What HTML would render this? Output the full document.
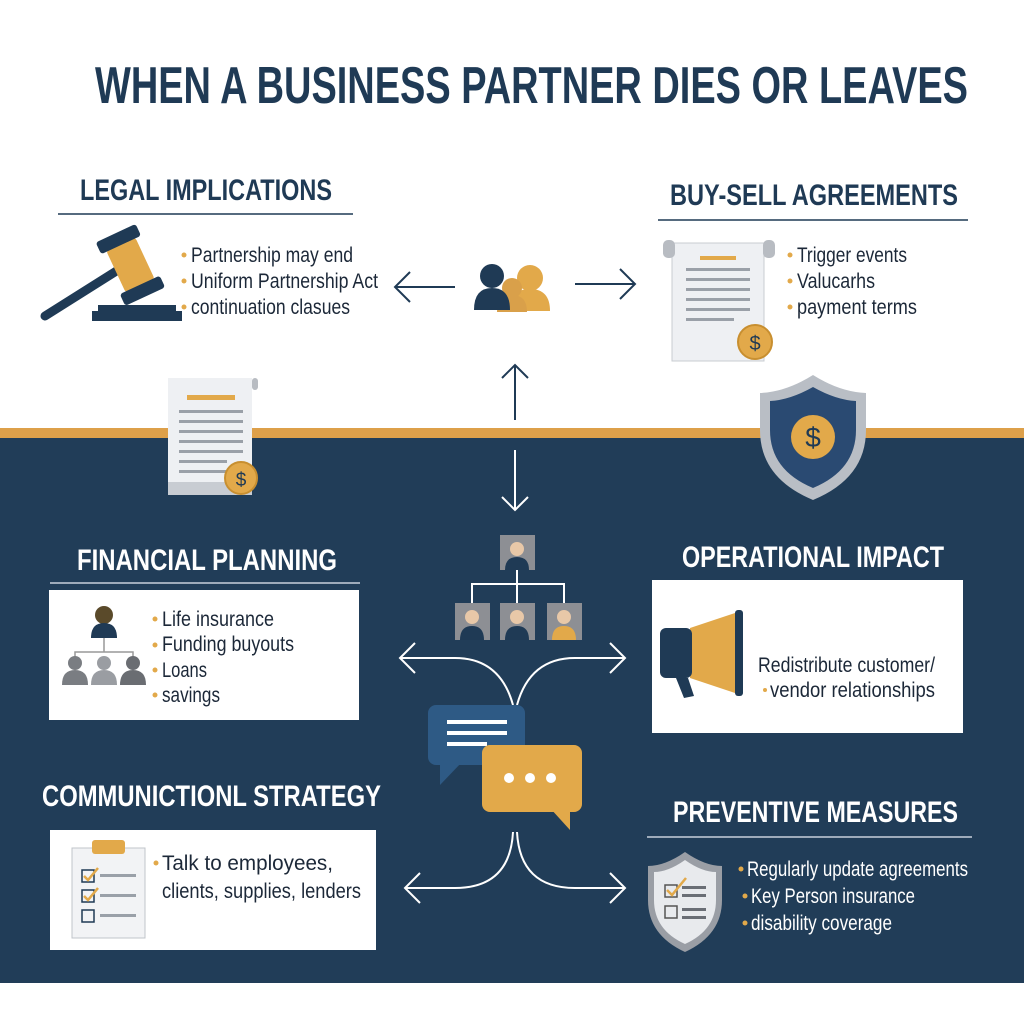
<!DOCTYPE html>
<html><head><meta charset="utf-8"><style>
html,body{margin:0;padding:0;background:#fff;}
svg{display:block}
text{font-family:"Liberation Sans Narrow","Liberation Sans",sans-serif;}
.h{font-weight:bold;font-size:30px;}
.b{font-size:21px;fill:#1c2838;}
.w{font-size:21px;fill:#fff;}
</style></head><body>
<svg width="1024" height="1024" viewBox="0 0 1024 1024" xmlns="http://www.w3.org/2000/svg">
<rect width="1024" height="1024" fill="#fff"/>
<text x="95" y="103" font-size="52" font-weight="bold" fill="#1f3a55" textLength="873" lengthAdjust="spacingAndGlyphs">WHEN A BUSINESS PARTNER DIES OR LEAVES</text>

<text class="h" x="80" y="200" fill="#1f3a55" textLength="252" lengthAdjust="spacingAndGlyphs">LEGAL IMPLICATIONS</text>
<line x1="58" y1="214" x2="353" y2="214" stroke="#1f3a55" stroke-width="1.5"/>
<g>
<line x1="45" y1="316" x2="118" y2="270" stroke="#1f3a55" stroke-width="9" stroke-linecap="round"/>
<g transform="rotate(-25 130 264)">
<rect x="114" y="242" width="32" height="46" rx="3" fill="#e2a94a"/>
<rect x="108" y="230" width="44" height="13" rx="3" fill="#1f3a55"/>
<rect x="108" y="287" width="44" height="13" rx="3" fill="#1f3a55"/>
</g>
<rect x="98" y="305" width="78" height="6" fill="#1f3a55"/>
<rect x="92" y="311" width="90" height="10" fill="#1f3a55"/>
</g>
<g fill="#e2a94a"><circle cx="184" cy="255" r="2.5"/><circle cx="184" cy="281" r="2.5"/><circle cx="184" cy="307" r="2.5"/></g>
<text class="b" x="191" y="262" textLength="162" lengthAdjust="spacingAndGlyphs">Partnership may end</text>
<text class="b" x="191" y="288" textLength="187" lengthAdjust="spacingAndGlyphs">Uniform Partnership Act</text>
<text class="b" x="191" y="314" textLength="159" lengthAdjust="spacingAndGlyphs">continuation clasues</text>

<g stroke="#1f3a55" stroke-width="2" fill="none">
<line x1="395" y1="287" x2="455" y2="287"/><polyline points="410,272 395,287 410,302"/>
<line x1="575" y1="284" x2="635" y2="284"/><polyline points="620,269 635,284 620,299"/>
<line x1="515" y1="365" x2="515" y2="420"/><polyline points="502,378 515,365 528,378"/>
</g>
<g>
<circle cx="530" cy="278" r="13" fill="#e2a94a"/><path d="M510 311 q0-22 20-22 q20 0 20 22z" fill="#e2a94a"/>
<circle cx="512" cy="288" r="10" fill="#d9a04a"/><path d="M497 312 q0-17 15-17 q15 0 15 17z" fill="#d9a04a"/>
<circle cx="492" cy="276" r="12" fill="#1f3a55"/><path d="M474 310 q0-22 18-22 q18 0 18 22z" fill="#1f3a55"/>
</g>

<text class="h" x="670" y="205" fill="#1f3a55" textLength="288" lengthAdjust="spacingAndGlyphs">BUY-SELL AGREEMENTS</text>
<line x1="658" y1="220" x2="968" y2="220" stroke="#1f3a55" stroke-width="1.5"/>
<g>
<rect x="672" y="243" width="92" height="118" fill="#eef0f3" stroke="#c8ccd2"/>
<rect x="663" y="240" width="12" height="18" rx="5" fill="#b8bcc2"/><rect x="763" y="240" width="12" height="18" rx="5" fill="#b8bcc2"/>
<rect x="700" y="256" width="36" height="4" fill="#e2a94a"/>
<g fill="#9aa0a8"><rect x="686" y="268" width="64" height="3"/><rect x="686" y="278" width="64" height="3"/><rect x="686" y="288" width="64" height="3"/><rect x="686" y="298" width="64" height="3"/><rect x="686" y="308" width="64" height="3"/><rect x="686" y="318" width="48" height="3"/></g>
<circle cx="755" cy="342" r="17" fill="#e2a94a" stroke="#c88f30" stroke-width="2"/>
<text x="755" y="350" font-size="20" text-anchor="middle" fill="#1f3a55">$</text>
</g>
<g fill="#e2a94a"><circle cx="790" cy="255" r="2.5"/><circle cx="790" cy="281" r="2.5"/><circle cx="790" cy="307" r="2.5"/></g>
<text class="b" x="797" y="262" textLength="110" lengthAdjust="spacingAndGlyphs">Trigger events</text>
<text class="b" x="797" y="288" textLength="78" lengthAdjust="spacingAndGlyphs">Valucarhs</text>
<text class="b" x="797" y="314" textLength="120" lengthAdjust="spacingAndGlyphs">payment terms</text>

<rect x="0" y="428" width="1024" height="10" fill="#dda04a"/>
<rect x="0" y="438" width="1024" height="545" fill="#213d58"/>

<g>
<rect x="168" y="378" width="84" height="117" fill="#eef0f3"/>
<rect x="168" y="482" width="84" height="13" fill="#c8ccd2"/>
<rect x="252" y="378" width="6" height="12" rx="3" fill="#b8bcc2"/>
<rect x="187" y="395" width="48" height="5" fill="#e2a94a"/>
<g fill="#9aa0a8"><rect x="179" y="410" width="64" height="3"/><rect x="179" y="420" width="64" height="3"/><rect x="179" y="430" width="64" height="3"/><rect x="179" y="440" width="64" height="3"/><rect x="179" y="450" width="64" height="3"/><rect x="179" y="460" width="48" height="3"/><rect x="179" y="470" width="48" height="3"/></g>
<circle cx="241" cy="478" r="16" fill="#e2a94a" stroke="#c88f30" stroke-width="2"/>
<text x="241" y="486" font-size="19" text-anchor="middle" fill="#1f3a55">$</text>
</g>
<g>
<path d="M813 375 Q840 392 866 393 L866 430 Q866 478 813 500 Q760 478 760 430 L760 393 Q786 392 813 375z" fill="#b9bec5"/>
<path d="M813 387 Q836 400 856 401 L856 430 Q856 470 813 488 Q770 470 770 430 L770 401 Q790 400 813 387z" fill="#2a4a72"/>
<circle cx="813" cy="437" r="22" fill="#e2a94a"/>
<text x="813" y="447" font-size="28" text-anchor="middle" fill="#1f3a55">$</text>
</g>

<g stroke="#fff" stroke-width="2" fill="none">
<line x1="515" y1="450" x2="515" y2="510"/><polyline points="502,497 515,510 528,497"/>
</g>

<text class="h" x="77" y="570" fill="#fff" textLength="260" lengthAdjust="spacingAndGlyphs">FINANCIAL PLANNING</text>
<line x1="50" y1="583" x2="360" y2="583" stroke="#c8d0da" stroke-width="1.5"/>
<rect x="49" y="590" width="310" height="130" fill="#fff"/>
<g>
<circle cx="104" cy="615" r="9" fill="#5a4a2a"/><path d="M91 638 q0-15 13-15 q13 0 13 15z" fill="#1f3a55"/>
<path d="M75 660 v-8 h58 v8 M104 638 v14" stroke="#999" fill="none" stroke-width="1.5"/>
<circle cx="75" cy="663" r="7" fill="#7a7d82"/><path d="M62 685 q0-15 13-15 q13 0 13 15z" fill="#7a7d82"/>
<circle cx="104" cy="663" r="7" fill="#9a9da2"/><path d="M91 685 q0-15 13-15 q13 0 13 15z" fill="#9a9da2"/>
<circle cx="133" cy="663" r="7" fill="#6a6d72"/><path d="M120 685 q0-15 13-15 q13 0 13 15z" fill="#6a6d72"/>
</g>
<g fill="#e2a94a"><circle cx="155" cy="619" r="2.5"/><circle cx="155" cy="645" r="2.5"/><circle cx="155" cy="670" r="2.5"/><circle cx="155" cy="695" r="2.5"/></g>
<text class="b" x="162" y="626" textLength="112" lengthAdjust="spacingAndGlyphs">Life insurance</text>
<text class="b" x="162" y="651" textLength="132" lengthAdjust="spacingAndGlyphs">Funding buyouts</text>
<text class="b" x="162" y="677" textLength="45" lengthAdjust="spacingAndGlyphs">Loans</text>
<text class="b" x="162" y="702" textLength="58" lengthAdjust="spacingAndGlyphs">savings</text>

<g>
<rect x="500" y="535" width="35" height="35" fill="#8d8f94"/>
<circle cx="517" cy="549" r="7" fill="#e8c8a8"/><path d="M505 570 q0-13 12-13 q12 0 12 13z" fill="#1f3a55"/>
<path d="M517 570 v14 M472 603 v-19 h92 v19 M517 584 v19" stroke="#fff" stroke-width="2" fill="none"/>
<rect x="455" y="603" width="35" height="37" fill="#8d8f94"/>
<circle cx="472" cy="617" r="7" fill="#e8c8a8"/><path d="M460 640 q0-14 12-14 q12 0 12 14z" fill="#1f3a55"/>
<rect x="500" y="603" width="35" height="37" fill="#8d8f94"/>
<circle cx="517" cy="617" r="7" fill="#e8c8a8"/><path d="M505 640 q0-14 12-14 q12 0 12 14z" fill="#1f3a55"/>
<rect x="547" y="603" width="35" height="37" fill="#8d8f94"/>
<circle cx="564" cy="617" r="7" fill="#e8c8a8"/><path d="M552 640 q0-14 12-14 q12 0 12 14z" fill="#e2a94a"/>
</g>

<g stroke="#fff" stroke-width="2" fill="none">
<path d="M513 705 Q500 658 455 658 L400 658"/><polyline points="415,643 400,658 415,673"/>
<path d="M517 705 Q530 658 575 658 L625 658"/><polyline points="610,643 625,658 610,673"/>
<path d="M513 832 Q510 888 455 888 L405 888"/><polyline points="420,873 405,888 420,903"/>
<path d="M517 832 Q520 888 575 888 L625 888"/><polyline points="610,873 625,888 610,903"/>
</g>

<text class="h" x="682" y="567" fill="#fff" textLength="262" lengthAdjust="spacingAndGlyphs">OPERATIONAL IMPACT</text>
<rect x="652" y="580" width="311" height="153" fill="#fff"/>
<g>
<path d="M690 628 L738 612 L738 694 L690 678z" fill="#e2a94a"/>
<rect x="660" y="628" width="32" height="50" rx="6" fill="#1f3a55"/>
<rect x="735" y="610" width="8" height="86" rx="3" fill="#1f3a55"/>
<path d="M676 678 L684 698 L694 696 L688 678z" fill="#1f3a55"/>
</g>
<text class="b" x="758" y="672" textLength="177" lengthAdjust="spacingAndGlyphs">Redistribute customer/</text>
<text class="b" x="770" y="697" textLength="165" lengthAdjust="spacingAndGlyphs">vendor relationships</text>
<circle cx="765" cy="690" r="2" fill="#e2a94a"/>

<g>
<rect x="428" y="705" width="97" height="60" rx="8" fill="#2e5a85"/>
<path d="M440 760 L440 785 L462 762z" fill="#2e5a85"/>
<g fill="#fff"><rect x="447" y="720" width="60" height="4"/><rect x="447" y="731" width="60" height="4"/><rect x="447" y="742" width="40" height="4"/></g>
<rect x="482" y="745" width="100" height="67" rx="8" fill="#e2a94a"/>
<path d="M550 808 L570 830 L570 808z" fill="#e2a94a"/>
<g fill="#fff"><circle cx="509" cy="778" r="5"/><circle cx="530" cy="778" r="5"/><circle cx="551" cy="778" r="5"/></g>
</g>

<text class="h" x="42" y="806" fill="#fff" textLength="339" lengthAdjust="spacingAndGlyphs">COMMUNICTIONL STRATEGY</text>
<rect x="50" y="830" width="326" height="120" fill="#fff"/>
<g>
<rect x="72" y="848" width="73" height="90" fill="#f2f3f5" stroke="#c0c4ca"/>
<rect x="92" y="840" width="33" height="14" rx="3" fill="#e2a94a"/>
<g fill="none" stroke="#1f3a55" stroke-width="1.5"><rect x="82" y="870" width="12" height="12"/><rect x="82" y="890" width="12" height="12"/><rect x="82" y="910" width="12" height="12"/></g>
<polyline points="84,876 88,880 98,868" stroke="#e2a94a" stroke-width="2.5" fill="none"/>
<polyline points="84,896 88,900 98,888" stroke="#e2a94a" stroke-width="2.5" fill="none"/>
<g fill="#9aa0a8"><rect x="100" y="874" width="36" height="3"/><rect x="100" y="894" width="36" height="3"/><rect x="100" y="914" width="36" height="3"/></g>
</g>
<circle cx="156" cy="863" r="2.5" fill="#e2a94a"/>
<text class="b" x="162" y="870" textLength="171" lengthAdjust="spacingAndGlyphs">Talk to employees,</text>
<text class="b" x="162" y="898" textLength="199" lengthAdjust="spacingAndGlyphs">clients, supplies, lenders</text>

<text class="h" x="673" y="822" fill="#fff" textLength="285" lengthAdjust="spacingAndGlyphs">PREVENTIVE MEASURES</text>
<line x1="647" y1="837" x2="972" y2="837" stroke="#c8d0da" stroke-width="1.5"/>
<g>
<path d="M685 852 Q705 866 722 866 L722 900 Q722 935 685 952 Q648 935 648 900 L648 866 Q665 866 685 852z" fill="#9a9ea5"/>
<path d="M685 860 Q702 872 716 872 L716 900 Q716 930 685 944 Q654 930 654 900 L654 872 Q668 872 685 860z" fill="#e8eaed"/>
<g fill="none" stroke="#555" stroke-width="1.5"><rect x="665" y="885" width="12" height="12"/><rect x="665" y="906" width="12" height="12"/></g>
<polyline points="667,890 672,895 686,878" stroke="#e2a94a" stroke-width="2.5" fill="none"/>
<g fill="#6a6e75"><rect x="682" y="886" width="24" height="3"/><rect x="682" y="894" width="24" height="3"/><rect x="682" y="908" width="24" height="3"/><rect x="682" y="916" width="24" height="3"/></g>
</g>
<g fill="#e2a94a"><circle cx="741" cy="869" r="2.5"/><circle cx="745" cy="896" r="2.5"/><circle cx="745" cy="923" r="2.5"/></g>
<text class="w" x="747" y="876" textLength="221" lengthAdjust="spacingAndGlyphs">Regularly update agreements</text>
<text class="w" x="751" y="903" textLength="164" lengthAdjust="spacingAndGlyphs">Key Person insurance</text>
<text class="w" x="751" y="930" textLength="141" lengthAdjust="spacingAndGlyphs">disability coverage</text>
</svg>
</body></html>
